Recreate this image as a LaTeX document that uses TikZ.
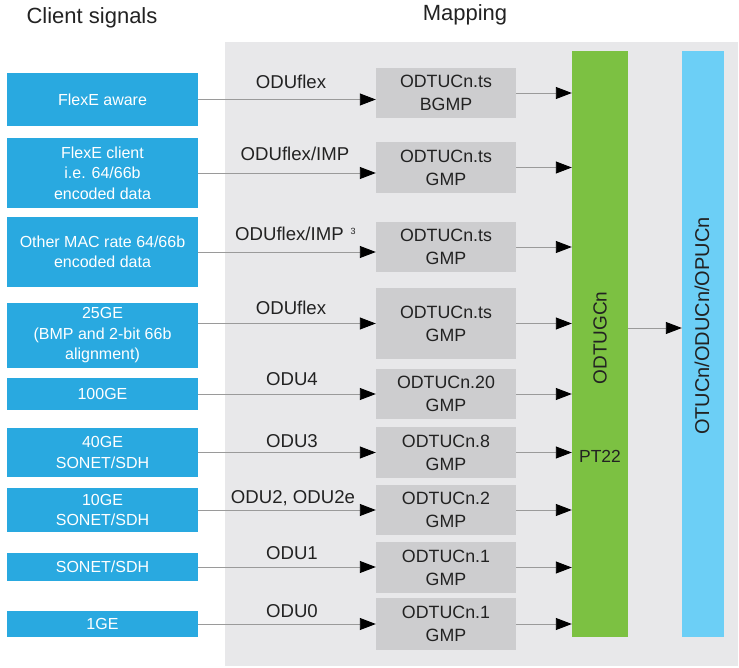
\documentclass[tikz,border=0pt]{standalone}
\usepackage{fontspec}
\setmainfont{Liberation Sans}
\usetikzlibrary{arrows.meta}
\definecolor{clientblue}{HTML}{29A9E0}
\definecolor{panelgray}{HTML}{E8E8EA}
\definecolor{mapgray}{HTML}{CDCDCF}
\definecolor{odtugreen}{HTML}{7CC142}
\definecolor{otublue}{HTML}{6CCFF6}
\definecolor{linegray}{HTML}{9A9A9A}
\definecolor{inkdark}{HTML}{222222}
\begin{document}
\begin{tikzpicture}[x=1pt,y=-1pt,
  client/.style={fill=clientblue, text=white, font=\fontsize{16}{20.5}\selectfont,
    align=center, minimum width=191pt, inner sep=0pt},
  mapbox/.style={fill=mapgray, text=inkdark, font=\fontsize{17.8}{23}\selectfont,
    align=center, minimum width=140pt, inner sep=0pt},
  conn/.style={draw=linegray, line width=0.9pt,
    -{Triangle[length=16pt,width=12pt,color=black,fill=black]}},
  lbl/.style={text=inkdark, font=\fontsize{18.6}{22}\selectfont, inner sep=0pt},
  heading/.style={text=inkdark, font=\fontsize{22}{26}\selectfont, inner sep=0pt},
  bar/.style={inner sep=0pt, minimum height=586pt},
]
\useasboundingbox (0,0) rectangle (739,668);

% background of the mapping stage
\node[fill=panelgray, inner sep=0pt, minimum width=513pt, minimum height=624pt] (panel) at (481.5,354) {};

% column headings
\node[heading] (hclient) at (92,18) {Client signals};
\node[heading] (hmap) at (465,15) {Mapping};

% client signals
\node[client, minimum height=53pt] (c1) at (102.5,99.5) {FlexE aware};
\node[client, minimum height=70pt] (c2) at (102.5,173) {FlexE client\\i.e. 64/66b\\encoded data};
\node[client, minimum height=70pt] (c3) at (102.5,252) {Other MAC rate 64/66b\\encoded data};
\node[client, minimum height=65pt] (c4) at (102.5,335.5) {25GE\\(BMP and 2-bit 66b\\alignment)};
\node[client, minimum height=32pt] (c5) at (102.5,394) {100GE};
\node[client, minimum height=49pt] (c6) at (102.5,452.5) {40GE\\SONET/SDH};
\node[client, minimum height=44pt] (c7) at (102.5,510) {10GE\\SONET/SDH};
\node[client, minimum height=28pt] (c8) at (102.5,567) {SONET/SDH};
\node[client, minimum height=26pt] (c9) at (102.5,624) {1GE};

% mapping into tributary slots
\node[mapbox, minimum height=50pt] (m1) at (446,93) {ODTUCn.ts\\BGMP};
\node[mapbox, minimum height=51pt] (m2) at (446,167.5) {ODTUCn.ts\\GMP};
\node[mapbox, minimum height=50pt] (m3) at (446,247) {ODTUCn.ts\\GMP};
\node[mapbox, minimum height=71pt] (m4) at (446,323.5) {ODTUCn.ts\\GMP};
\node[mapbox, minimum height=50pt] (m5) at (446,394) {ODTUCn.20\\GMP};
\node[mapbox, minimum height=51pt] (m6) at (446,452.5) {ODTUCn.8\\GMP};
\node[mapbox, minimum height=50pt] (m7) at (446,510) {ODTUCn.2\\GMP};
\node[mapbox, minimum height=51pt] (m8) at (446,567.5) {ODTUCn.1\\GMP};
\node[mapbox, minimum height=52pt] (m9) at (446,624) {ODTUCn.1\\GMP};

% ODTUGCn and OTUCn columns
\node[bar, fill=odtugreen, minimum width=56pt] (g) at (600,344) {};
\node[bar, fill=otublue, minimum width=42pt] (u) at (703,344) {};
\node[rotate=90, text=inkdark, font=\fontsize{19}{23}\selectfont, inner sep=0pt] (gname) at (600,338) {ODTUGCn};
\node[text=inkdark, font=\fontsize{17.5}{21}\selectfont, inner sep=0pt] (pt) at (600,456) {PT22};
\node[rotate=90, text=inkdark, font=\fontsize{20}{24}\selectfont, inner sep=0pt] (uname) at (702,326) {OTUCn/ODUCn/OPUCn};

% client to mapping connectors
\draw[conn] (c1.east) -- (c1.east -| m1.west);
\draw[conn] (c2.east) -- (c2.east -| m2.west);
\draw[conn] (c3.east) -- (c3.east -| m3.west);
\draw[conn] (c4.east |- m4.west) -- (m4.west);
\draw[conn] (c5.east) -- (c5.east -| m5.west);
\draw[conn] (c6.east) -- (c6.east -| m6.west);
\draw[conn] (c7.east) -- (c7.east -| m7.west);
\draw[conn] (c8.east) -- (c8.east -| m8.west);
\draw[conn] (c9.east) -- (c9.east -| m9.west);

% container labels
\node[lbl] (l1) at (291,82) {ODUflex};
\node[lbl] (l2) at (295,154) {ODUflex/IMP};
\node[lbl, anchor=west] (l3) at (235,234) {ODUflex/IMP};
\node[text=inkdark, font=\fontsize{9}{10}\selectfont, inner sep=0pt] (l3note) at (353,231) {3};
\node[lbl] (l4) at (291,308) {ODUflex};
\node[lbl] (l5) at (292,379) {ODU4};
\node[lbl] (l6) at (292,441) {ODU3};
\node[lbl] (l7) at (293,498) {ODU2, ODU2e};
\node[lbl] (l8) at (292,553) {ODU1};
\node[lbl] (l9) at (292,611) {ODU0};

% mapping to ODTUGCn connectors
\foreach \i in {1,...,9}
  \draw[conn] (m\i.east) -- (m\i.east -| g.west);

% ODTUGCn to OTUCn
\coordinate (gout) at (628,328);
\draw[conn] (gout) -- (gout -| u.west);
\end{tikzpicture}
\end{document}
